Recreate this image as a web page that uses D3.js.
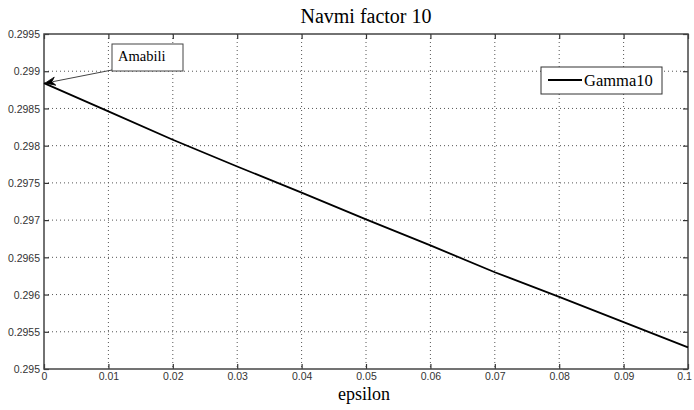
<!DOCTYPE html>
<html>
<head>
<meta charset="utf-8">
<script src="https://cdn.jsdelivr.net/npm/d3@7"></script>
<style>
body { margin: 0; background: #fff; }
.tick text { font-family: "Liberation Sans", Arial, sans-serif; font-size: 10.5px; fill: #333; }
</style>
</head>
<body>
<script>
/*Chart data*/
var epsilon = [0, 0.01, 0.02, 0.03, 0.04, 0.05, 0.06, 0.07, 0.08, 0.09, 0.1]
var gamma10 = [0.29884, 0.29846, 0.29808, 0.29772, 0.29737, 0.29701, 0.29666, 0.29630, 0.29597, 0.29563, 0.29529]
var xTicks = [0, 0.01, 0.02, 0.03, 0.04, 0.05, 0.06, 0.07, 0.08, 0.09, 0.1]
var xTickLabels = ["0", "0.01", "0.02", "0.03", "0.04", "0.05", "0.06", "0.07", "0.08", "0.09", "0.1"]
var yTicks = [0.295, 0.2955, 0.296, 0.2965, 0.297, 0.2975, 0.298, 0.2985, 0.299, 0.2995]
var yTickLabels = ["0.295", "0.2955", "0.296", "0.2965", "0.297", "0.2975", "0.298", "0.2985", "0.299", "0.2995"]
var chartTitle = "Navmi factor 10"
var xLabel = "epsilon"
var seriesName = "Gamma10"
var noteText = "Amabili"

var width = 694, height = 410
var margin = {top: 34, right: 6, bottom: 41, left: 44}
var plot_w = width - margin.left - margin.right
var plot_h = height - margin.top - margin.bottom

var svg = d3.select("body").append("svg")
			.attr("width", width)
			.attr("height", height)
			.attr("class", "canvas")

var xScale = d3.scaleLinear().domain([0, 0.1]).range([0, plot_w])
var yScale = d3.scaleLinear().domain([0.295, 0.2995]).range([plot_h, 0])

var chart = svg.append("g")
			.attr("class", "chart")
			.attr("transform", "translate(" + margin.left + "," + margin.top + ")")

/*dotted grid*/
chart.append("g").selectAll("line").data(xTicks.slice(1, -1))
	.enter().append("line")
	.attr("x1", function(d){return xScale(d)})
	.attr("x2", function(d){return xScale(d)})
	.attr("y1", 0).attr("y2", plot_h)
	.attr("stroke", "#555").attr("stroke-width", 1).attr("stroke-dasharray", "1,3")

chart.append("g").selectAll("line").data(yTicks.slice(1, -1))
	.enter().append("line")
	.attr("y1", function(d){return yScale(d)})
	.attr("y2", function(d){return yScale(d)})
	.attr("x1", 0).attr("x2", plot_w)
	.attr("stroke", "#555").attr("stroke-width", 1).attr("stroke-dasharray", "1,3")

/*axes, ticks point inwards like matlab*/
var xAxis = d3.axisBottom(xScale).tickValues(xTicks)
			.tickFormat(function(d, i){return xTickLabels[i]})
			.tickSizeInner(-5).tickSizeOuter(0).tickPadding(4)
var yAxis = d3.axisLeft(yScale).tickValues(yTicks)
			.tickFormat(function(d, i){return yTickLabels[i]})
			.tickSizeInner(-5).tickSizeOuter(0).tickPadding(4)

var gx = chart.append("g").attr("transform", "translate(0," + plot_h + ")").call(xAxis)
var gy = chart.append("g").call(yAxis)

chart.append("g").call(d3.axisTop(xScale).tickValues(xTicks).tickFormat("").tickSizeInner(-5).tickSizeOuter(0))
chart.append("g").attr("transform", "translate(" + plot_w + ",0)")
	.call(d3.axisRight(yScale).tickValues(yTicks).tickFormat("").tickSizeInner(-5).tickSizeOuter(0))

chart.selectAll(".domain").remove()
chart.selectAll(".tick line").attr("stroke", "#333").attr("stroke-width", 1.2)
gy.selectAll(".tick text").attr("dy", "0.35em")
//last label sits against the right edge
gx.selectAll(".tick text").filter(function(d){return d === 0.1}).attr("dx", -4)

chart.append("rect")
	.attr("width", plot_w).attr("height", plot_h)
	.attr("fill", "none").attr("stroke", "#444").attr("stroke-width", 1.5)

/*the curve*/
var line = d3.line()
	.x(function(d, i){return xScale(epsilon[i])})
	.y(function(d){return yScale(d)})

chart.append("path")
	.datum(gamma10)
	.attr("d", line)
	.attr("fill", "none")
	.attr("stroke", "#000")
	.attr("stroke-width", 1.8)

/*title and label*/
svg.append("text")
	.attr("x", margin.left + plot_w / 2).attr("y", 23)
	.attr("text-anchor", "middle")
	.style("font-family", "'Liberation Serif', 'Times New Roman', serif")
	.style("font-size", "20px")
	.text(chartTitle)

svg.append("text")
	.attr("x", margin.left + plot_w / 2 - 2).attr("y", 400)
	.attr("text-anchor", "middle")
	.style("font-family", "'Liberation Serif', 'Times New Roman', serif")
	.style("font-size", "18px")
	.text(xLabel)

/*legend*/
var legend = chart.append("g").attr("transform", "translate(" + (plot_w - 147) + ",33)")
legend.append("rect")
	.attr("width", 121).attr("height", 27)
	.attr("fill", "#fff").attr("stroke", "#333").attr("stroke-width", 1)
legend.append("line")
	.attr("x1", 7).attr("x2", 41).attr("y1", 13).attr("y2", 13)
	.attr("stroke", "#000").attr("stroke-width", 1.8)
legend.append("text")
	.attr("x", 43).attr("y", 19)
	.style("font-family", "'Liberation Serif', 'Times New Roman', serif")
	.style("font-size", "16.5px")
	.text(seriesName)

/*text arrow annotation pointing at first point*/
var tip = [xScale(epsilon[0]) + 1, yScale(gamma10[0])]
var note = chart.append("g").attr("transform", "translate(68,10)")
var tail = [68, 36]

chart.append("line")
	.attr("x1", tail[0]).attr("y1", tail[1])
	.attr("x2", tip[0] + 8).attr("y2", tip[1] - 1.5)
	.attr("stroke", "#444").attr("stroke-width", 1)

var ang = Math.atan2(tail[1] - tip[1], tail[0] - tip[0])
function pt(len, off){
	var a = ang + off
	return [tip[0] + len * Math.cos(a), tip[1] + len * Math.sin(a)]
}
var p1 = pt(11, 0.38), p2 = pt(7, 0), p3 = pt(11, -0.38)
chart.append("path")
	.attr("d", "M" + tip + "L" + p1 + "L" + p2 + "L" + p3 + "Z")
	.attr("fill", "#000").attr("stroke", "#000").attr("stroke-width", 0.8)

note.append("rect")
	.attr("width", 71).attr("height", 27)
	.attr("fill", "#fff").attr("stroke", "#444").attr("stroke-width", 1)
note.append("text")
	.attr("x", 6).attr("y", 17)
	.style("font-family", "'Liberation Serif', 'Times New Roman', serif")
	.style("font-size", "14.5px")
	.text(noteText)
</script>
</body>
</html>
